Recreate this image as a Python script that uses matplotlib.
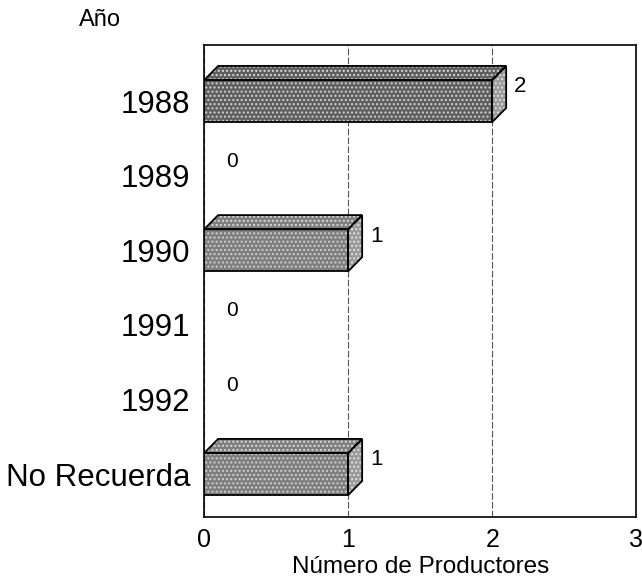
import numpy as np
import matplotlib
matplotlib.use("Agg")
import matplotlib.pyplot as plt
from matplotlib.patches import Polygon

plt.rcParams['font.family'] = ['Liberation Sans', 'DejaVu Sans']

# Data
categories = ["1988", "1989", "1990", "1991", "1992", "No Recuerda"]
productores = [2, 0, 1, 0, 0, 1]
front_colors = ["#5e5e5e", "#7e7e7e", "#7e7e7e", "#7e7e7e", "#7e7e7e", "#7e7e7e"]

fig = plt.figure(figsize=(6.42, 5.79), dpi=100)
ax = fig.add_axes([0.318, 0.107, 0.673, 0.815])

y = np.arange(len(categories))
h = 0.563      # front face height
dx, dy = 0.097, 0.19   # pseudo-3D depth

ax.set_xlim(0, 3)
ax.set_ylim(5.576, -0.75)

bars = ax.barh(y, productores, height=h, color=front_colors,
               edgecolor="#d0d0d0", hatch="....", linewidth=0, zorder=3)

for yi, v, c in zip(y, productores, front_colors):
    if v <= 0:
        ax.text(0.15, yi - 0.19, "0", fontsize=15, ha="left", va="center")
        continue
    top = yi - h / 2
    bot = yi + h / 2
    # outline of front face
    ax.add_patch(Polygon([(0, top), (v, top), (v, bot), (0, bot)], closed=True,
                         fill=False, edgecolor="black", linewidth=1.3, zorder=4))
    # top face
    top_pts = [(0, top), (dx, top - dy), (v + dx, top - dy), (v, top)]
    ax.add_patch(Polygon(top_pts, closed=True, facecolor=c, edgecolor="#dadada",
                         hatch="....", linewidth=0, zorder=3))
    ax.add_patch(Polygon(top_pts, closed=True, fill=False, edgecolor="black",
                         linewidth=1.3, zorder=4))
    # side face
    side_pts = [(v, top), (v + dx, top - dy), (v + dx, bot - dy), (v, bot)]
    ax.add_patch(Polygon(side_pts, closed=True, facecolor="#9a9a9a", edgecolor="#e0e0e0",
                         hatch="....", linewidth=0, zorder=3))
    ax.add_patch(Polygon(side_pts, closed=True, fill=False, edgecolor="black",
                         linewidth=1.3, zorder=4))
    ax.text(v + 0.15, yi - 0.19, str(v), fontsize=16, ha="left", va="center", zorder=5)

ax.set_yticks(y)
ax.set_yticklabels(categories, fontsize=22.5)
ax.set_xticks([0, 1, 2, 3])
ax.set_xticklabels(["0", "1", "2", "3"], fontsize=18)
ax.tick_params(axis="both", length=0)
ax.tick_params(axis="y", pad=10)
ax.tick_params(axis="x", pad=8)

ax.grid(axis="x", color="#555555", linestyle=(0, (6, 2)), linewidth=0.8, zorder=1)
ax.set_axisbelow(True)
for s in ax.spines.values():
    s.set_linewidth(1.2)

ax.set_xlabel("Número de Productores", fontsize=17.5, labelpad=3)
fig.text(0.156, 0.965, "Año", fontsize=17, ha="center", va="center")

fig.savefig("out.png", dpi=100)
